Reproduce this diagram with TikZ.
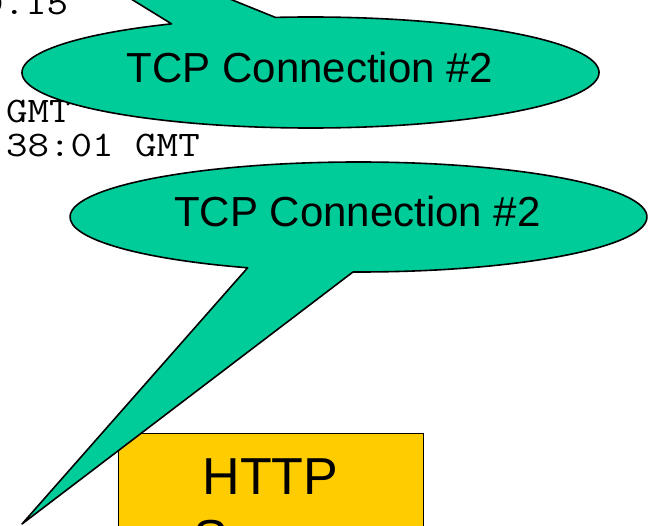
\documentclass[tikz,border=0pt]{standalone}
\usepackage{graphicx}
\usepackage{fontspec}
\setmainfont{Liberation Sans}
\usetikzlibrary{calc,positioning}
\definecolor{bubblegreen}{RGB}{0,204,153}
\definecolor{serveryellow}{RGB}{255,204,0}
\tikzset{bubble/.style={fill=bubblegreen, draw=black, line width=1.6pt, line join=round},
bubbletext/.style={font=\fontsize{42}{50}\selectfont, inner sep=0pt, anchor=base},
headertext/.style={font=\ttfamily\fontsize{36}{36}\selectfont, inner sep=0pt, anchor=base west},
serverbox/.style={fill=serveryellow, draw=black, line width=1.2pt, inner sep=0pt, anchor=north west},
servertext/.style={font=\fontsize{52}{62}\selectfont, inner sep=0pt, anchor=base}}

\begin{document}
\begin{tikzpicture}[x=1pt, y=1pt]

\useasboundingbox (0,0) rectangle (653,-526);
\clip (0,0) rectangle (653,-526);

\coordinate (c1) at (310.5,-72.5);
\coordinate (c2) at (358.5,-217);
\coordinate (tip1) at (-59,118);
\coordinate (tip2) at (22,-524);

% header lines behind the bubbles
\node[headertext] (line1) at (-18,-15) {\scalebox{1.16}[1]{0.15}};
\node[headertext] (line2) at (6,-123) {\scalebox{1.16}[1]{GMT}};
\node[headertext] (line3) at (6,-157) {\scalebox{1.16}[1]{38:01 GMT}};

\node[serverbox, minimum width=305pt, minimum height=200pt] (server) at (118,-433) {};
\node[servertext] (http) at (270.5,-494) {HTTP};
\node[servertext] (srv) at ([yshift=-62pt]http.base) {Server};

\draw[bubble] (tip1) -- ($(c1)+(118.8:288.5pt and 55.5pt)$)
    arc[start angle=118.8, end angle=457, x radius=288.5pt, y radius=55.5pt] -- cycle;
\draw[bubble] (tip2) -- ($(c2)+(268.9:288.5pt and 55pt)$)
    arc[start angle=268.9, end angle=607.4, x radius=288.5pt, y radius=55pt] -- cycle;

\node[bubbletext] (conn1) at (310,-83) {TCP Connection \#2};
\node[bubbletext] (conn2) at (357.5,-227) {TCP Connection \#2};

\end{tikzpicture}
\end{document}
